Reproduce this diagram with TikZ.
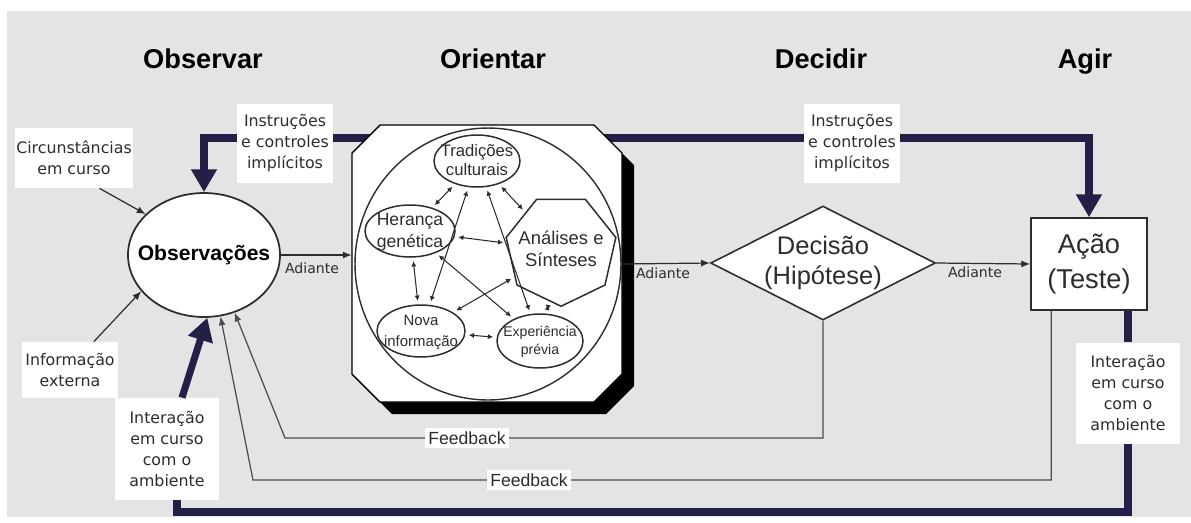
\documentclass[tikz,border=0pt]{standalone}
\usepackage{fontspec}
\setmainfont{Liberation Sans}
\newfontfamily\lblfont{DejaVu Sans}
\usetikzlibrary{shapes.geometric, shadows, arrows.meta, calc}
\definecolor{bggray}{RGB}{228,228,228}
\definecolor{navy}{RGB}{34,32,70}
\definecolor{inkgray}{RGB}{45,45,45}
% text that does not widen its node
\newcommand{\ctext}[1]{\makebox[0pt]{\smash{\raisebox{-0.3em}{\begin{tabular}{@{}c@{}}#1\end{tabular}}}}}
\begin{document}
\begin{tikzpicture}[x=0.02cm, y=-0.02cm,
    phase/.style={anchor=base, font=\bfseries\fontsize{15.5}{18}\selectfont},
    whitebox/.style={fill=white, align=center, inner sep=0pt, text=inkgray,
        font=\lblfont\fontsize{9}{11.9}\selectfont},
    thinarr/.style={draw=inkgray, line width=0.7pt, -{Latex[length=5pt,width=4pt]}},
    fbline/.style={draw=inkgray!85, line width=0.7pt, -{Latex[length=5pt,width=4pt]}},
    navyline/.style={draw=navy, line width=4pt},
    navyarr/.style={navyline, -{Triangle[length=13pt,width=14pt]}},
    adlab/.style={font=\lblfont\fontsize{8}{9}\selectfont, text=inkgray},
    fblab/.style={fill=white, font=\fontsize{10}{12}\selectfont, text=inkgray, inner sep=2pt},
    inner/.style={draw=inkgray, line width=0.85pt, ellipse, inner sep=0pt, text=inkgray},
    dbl/.style={draw=inkgray, line width=0.6pt, {Latex[length=3pt,width=3pt]}-{Latex[length=3pt,width=3pt]},
        shorten <=2pt, shorten >=2pt}]
    \useasboundingbox (0,0) rectangle (1191,522);
    \fill[bggray] (7,11) rectangle (1191,517);
    % phases
    \node[phase] (hobs) at (203,68) {Observar};
    \node[phase] (hori) at (493,68) {Orientar};
    \node[phase] (hdec) at (821,68) {Decidir};
    \node[phase] (hagi) at (1085,68) {Agir};
    % main nodes
    \node[draw=inkgray, line width=1pt, fill=white, ellipse, minimum width=3.04cm, minimum height=2.48cm,
        inner sep=0pt, font=\bfseries\fontsize{12}{14}\selectfont] (obs) at (204,255) {\ctext{Observações}};
    \node[draw=inkgray, line width=0.9pt, fill=white, diamond, aspect=2, inner sep=0pt,
        minimum width=4.48cm, minimum height=2.28cm, align=center, text=inkgray,
        font=\fontsize{14.5}{17}\selectfont] (dec) at (823,263) {Decisão\\(Hipótese)};
    \node[draw=inkgray, line width=0.9pt, fill=white, minimum width=2.32cm, minimum height=1.84cm,
        align=center, text=inkgray, font=\fontsize{15.5}{19.5}\selectfont] (act) at (1089,264) {Ação\\(Teste)};
    % instructions and controls
    \coordinate (instr) at (488,138);
    \draw[navyarr] (instr) -| (obs.north);
    \draw[navyarr] (instr) -| (act.north);
    % orient
    \node[minimum width=5.4cm, minimum height=5.54cm, inner sep=0pt] (ori) at (487,264) {};
    \fill[black] (392,137) -- (606,137) -- (634,165) -- (634,386) -- (606,414) -- (392,414) -- (364,386) -- (364,165) -- cycle;
    \draw[black, line width=0.8pt, fill=white] (380,125) -- (594,125) -- (622,153) -- (622,374) -- (594,402)
        -- (380,402) -- (352,374) -- (352,153) -- cycle;
    \node[draw=inkgray, line width=0.8pt, ellipse, minimum width=5.32cm, minimum height=5.44cm] (orc) at (488,264) {};
    \node[inner, minimum width=1.72cm, minimum height=1.04cm, font=\fontsize{9.5}{11}\selectfont] (trad) at (477,161) {\ctext{Tradições\\culturais}};
    \node[inner, minimum width=1.8cm, minimum height=1.04cm, font=\fontsize{10}{12.5}\selectfont] (her) at (410,231) {\ctext{Herança\\genética}};
    \node[draw=inkgray, line width=0.85pt, regular polygon, regular polygon sides=7, shape border rotate=180,
        minimum size=2.25cm, inner sep=0pt, text=inkgray,
        font=\fontsize{10.5}{12.5}\selectfont] (ana) at (561,250) {\ctext{Análises e\\Sínteses}};
    \node[inner, minimum width=1.76cm, minimum height=1.04cm, font=\fontsize{8.5}{12}\selectfont] (nova) at (421,331) {\ctext{Nova\\informação}};
    \node[inner, minimum width=1.72cm, minimum height=1.08cm, font=\fontsize{8}{10}\selectfont] (exp) at (540,341) {\ctext{Experiência\\prévia}};
    \draw[dbl] (trad) -- (her);
    \draw[dbl] (trad) -- (ana);
    \draw[dbl] (her) -- (ana);
    \draw[dbl] (her) -- (nova);
    \draw[dbl] (her) -- (exp);
    \draw[dbl] (trad) -- (nova);
    \draw[dbl] (trad) -- (exp);
    \draw[dbl] (ana) -- (nova);
    \draw[dbl] (ana) -- (exp);
    \draw[dbl] (nova) -- (exp);
    % label boxes
    \node[whitebox, minimum width=1.92cm, minimum height=1.58cm] (linst) at (285,143) {Instruções\\e controles\\implícitos};
    \node[whitebox, minimum width=1.92cm, minimum height=1.58cm] (rinst) at (852,143) {Instruções\\e controles\\implícitos};
    \node[whitebox, minimum width=2.36cm, minimum height=1.2cm] (circ) at (74,158) {Circunstâncias\\em curso};
    \node[whitebox, minimum width=1.92cm, minimum height=1.12cm] (inf) at (70,370) {Informação\\externa};
    \node[whitebox, minimum width=2.1cm, minimum height=2.04cm] (lint) at (167,449) {Interação\\em curso\\com o\\ambiente};
    \node[whitebox, minimum width=2.08cm, minimum height=2.02cm] (rint) at (1128,393) {Interação\\em curso\\com o\\ambiente};
    \draw[thinarr] (circ.-50) -- (obs.145);
    \draw[thinarr] (inf.50) -- (obs.210);
    % forward
    \draw[thinarr] (obs.east) -- (obs.east -| ori.west);
    \draw[thinarr] (ori.east) -- (dec.west);
    \draw[thinarr] (dec.east) -- (act.west);
    \node[adlab] (ad1) at (312,268) {Adiante};
    \node[adlab] (ad2) at (663,273) {Adiante};
    \node[adlab] (ad3) at (975,272) {Adiante};
    % feedback
    \coordinate (fb1w) at (285,438);
    \coordinate (fb2w) at (253,480);
    \draw[fbline] (dec.south) |- (fb1w) -- (obs.-62);
    \draw[fbline] ($(act.south west)+(21,0)$) |- (fb2w) -- (obs.-75);
    \node[fblab] (fb1) at (467,438) {Feedback};
    \node[fblab] (fb2) at (529,480) {Feedback};
    % interaction with the environment
    \coordinate (botR) at (1128,512);
    \coordinate (botL) at (177,512);
    \draw[navyline] (act.south -| rint.north) -- (rint.north);
    \draw[navyline] (rint.south) -- (botR) -- (botL) -- (botL |- lint.south);
    \draw[navyarr] ($(lint.north)+(15,0)$) -- (obs.-87);
\end{tikzpicture}
\end{document}
